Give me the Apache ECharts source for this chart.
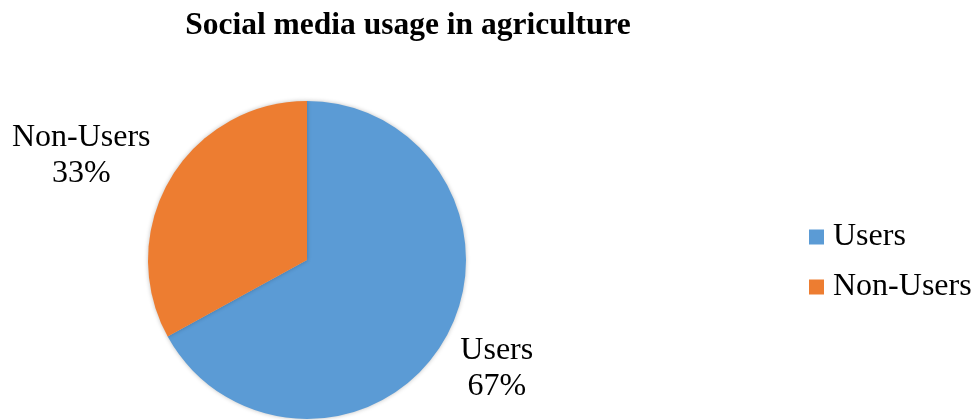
<!DOCTYPE html>
<html>
<head>
<meta charset="utf-8">
<script src="https://cdn.jsdelivr.net/npm/echarts@6/dist/echarts.min.js"></script>
<style>
  html, body { margin: 0; padding: 0; background: #fff; }
  #chart { width: 974px; height: 420px; }
</style>
</head>
<body>
<div id="chart"></div>
<script>
const categories = ['Users', 'Non-Users'];
const shares = [67, 33];
const colors = ['#5B9BD5', '#ED7D31'];
// horizontal tail of the (hidden) label line, per slice
const labelTail = [4, 40];

const font = "'Liberation Serif', 'Times New Roman', serif";

const chart = echarts.init(document.getElementById('chart'));

const pieData = categories.map((name, i) => ({
  name: name,
  value: shares[i],
  itemStyle: {color: colors[i]},
  labelLine: {show: false, length: 51, length2: labelTail[i]}
}));

chart.setOption({
  backgroundColor: '#fff',
  animation: false,
  title: {
    text: 'Social media usage in agriculture',
    left: 403,
    top: 5,
    textAlign: 'center',
    textStyle: {fontFamily: font, fontSize: 31.5, fontWeight: 'bold', color: '#000', lineHeight: 31}
  },
  legend: {
    orient: 'vertical',
    left: 804,
    top: 216,
    itemWidth: 15,
    itemHeight: 15,
    itemGap: 18,
    icon: 'rect',
    data: categories,
    textStyle: {fontFamily: font, fontSize: 32, color: '#000', lineHeight: 32, padding: [0, 0, 0, 4]}
  },
  series: [{
    type: 'pie',
    center: [307, 260],
    radius: 159,
    startAngle: 90,
    clockwise: true,
    itemStyle: {
      borderWidth: 0,
      shadowBlur: 4,
      shadowColor: 'rgba(0,0,0,0.25)'
    },
    label: {
      show: true,
      position: 'outside',
      formatter: '{b}\n{d}%',
      fontFamily: font,
      fontSize: 32,
      lineHeight: 36,
      color: '#000',
      overflow: 'none'
    },
    labelLayout: function () {
      return {align: 'center', verticalAlign: 'middle', dy: 2};
    },
    emphasis: {disabled: true},
    data: pieData
  }]
});
</script>
</body>
</html>
